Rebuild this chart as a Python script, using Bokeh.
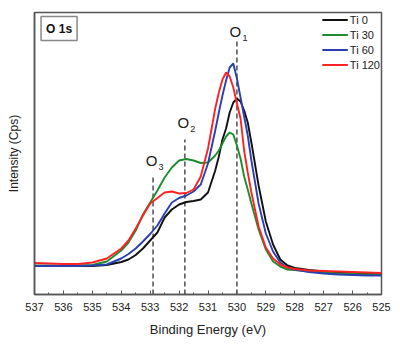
from bokeh.plotting import figure
from bokeh.models import Range1d, SingleIntervalTicker, FixedTicker, Legend, LegendItem, Label
from bokeh.core.properties import value
from bokeh.embed import file_html
from bokeh.resources import INLINE

# Binding energy grid (eV)
energy = [537, 536.5, 536, 535.5, 535, 534.5, 534, 533.75, 533.5, 533.25, 533,
          532.75, 532.5, 532.25, 532, 531.75, 531.5, 531.25, 531, 530.75, 530.625,
          530.5, 530.375, 530.25, 530.125, 530, 529.875, 529.75, 529.625, 529.5,
          529.25, 529, 528.75, 528.5, 528.25, 528, 527.5, 527, 526.5, 526, 525.5, 525]

# Intensities (arbitrary units)
ti0 = [28.5, 28.5, 28.5, 28.5, 28.5, 29.5, 32.5, 35, 39.5, 46, 54,
       62, 77, 85, 90, 92.5, 93.5, 95, 102, 124, 138,
       155, 166, 182, 192, 196, 193, 184, 172, 152,
       109, 73, 50, 35, 29, 26.5, 24.5, 23, 22, 21.5, 21, 20.5]
ti30 = [29, 29, 29, 29, 29.5, 33, 44, 52, 64, 80, 92,
        104, 117, 127, 134, 135.5, 134, 131.5, 132, 139, 144,
        151, 158, 162, 160, 149, 136, 118, 105, 91,
        65, 45, 33, 28, 25, 24.5, 23, 22, 21, 20.5, 20, 20]
ti60 = [28.5, 28.5, 28.5, 28.5, 29, 30, 36, 40.5, 46, 53, 60.5,
        69, 81, 92, 96.5, 99, 103, 110, 131, 164, 182,
        199, 214, 227, 231, 216, 197, 178, 159, 134,
        91, 61, 43, 32, 27, 25, 22.5, 21, 20, 19.5, 19, 19]
ti120 = [31.5, 31, 30.5, 30.5, 32, 36, 46, 54, 66, 79, 91,
         96.5, 102, 103, 101, 101.5, 105, 118, 146, 186, 202,
         215, 222, 218, 207, 191, 176, 144, 122, 102,
         68, 47, 36, 30, 27, 25.5, 24, 23.5, 23, 22.5, 22, 21.5]

series_names = ["Ti 0", "Ti 30", "Ti 60", "Ti 120"]
series_colors = ["#111111", "#1e8c2e", "#2a3fb0", "#ff2222"]

# Component peak markers
peak_pos = [532.9, 531.8, 530.0]
peak_top = [120, 155, 254]
peak_label_y = [128, 166, 257]
peak_sub = ["3", "2", "1"]

FONT = "Liberation Sans"

p = figure(width=400, height=347, x_range=Range1d(537, 525), y_range=Range1d(0, 282),
           output_backend="svg", toolbar_location=None,
           min_border_left=34, min_border_right=19, min_border_top=12, min_border_bottom=53)
p.background_fill_color = "white"
p.border_fill_color = "white"
p.outline_line_color = "#555555"
p.outline_line_width = 1.5
p.xgrid.visible = False
p.ygrid.visible = False

xa = p.xaxis[0]
xa.ticker = SingleIntervalTicker(interval=1, num_minor_ticks=2)
xa.major_tick_in = 4
xa.major_tick_out = 0
xa.minor_tick_in = 2
xa.minor_tick_out = 0
xa.axis_line_color = "#555555"
xa.axis_line_width = 1.5
xa.major_tick_line_color = "#555555"
xa.minor_tick_line_color = "#555555"
xa.major_label_text_font = FONT
xa.major_label_text_font_size = "11px"
xa.major_label_text_color = "#222222"
xa.major_label_standoff = 8
xa.axis_label = "Binding Energy (eV)"
xa.axis_label_text_font = FONT
xa.axis_label_text_font_size = "13px"
xa.axis_label_text_font_style = "normal"
xa.axis_label_text_color = "#222222"
xa.axis_label_standoff = 8

ya = p.yaxis[0]
ya.ticker = FixedTicker(ticks=[])
ya.major_tick_in = 0
ya.major_tick_out = 0
ya.minor_tick_in = 0
ya.minor_tick_out = 0
ya.major_label_standoff = 0
ya.axis_line_color = "#555555"
ya.axis_line_width = 1.5
ya.axis_label = "Intensity (Cps)"
ya.axis_label_text_font = FONT
ya.axis_label_text_font_size = "12px"
ya.axis_label_text_font_style = "normal"
ya.axis_label_text_color = "#222222"
ya.axis_label_standoff = 14

# dashed component markers
p.segment(x0=peak_pos, y0=[0, 0, 0], x1=peak_pos, y1=peak_top,
          line_color="#333333", line_width=1.3, line_dash="5 3")

items = []
for name, col, ys in zip(series_names, series_colors, [ti0, ti30, ti60, ti120]):
    r = p.line(energy, ys, line_color=col, line_width=1.9)
    items.append(LegendItem(label=name, renderers=[r]))

p.text(x=peak_pos, y=peak_label_y, text=["O", "O", "O"], x_offset=-1.5, y_offset=-6,
       text_align="center", text_baseline="alphabetic",
       text_font=value(FONT), text_font_size="15px", text_color="#222222")
p.text(x=peak_pos, y=peak_label_y, text=peak_sub, x_offset=8, y_offset=0,
       text_align="center", text_baseline="alphabetic",
       text_font=value(FONT), text_font_size="9px", text_color="#222222")

box = Label(x=536.15, y=266, text="O 1s", text_align="center", text_baseline="middle",
            text_font=FONT, text_font_size="12px", text_font_style="bold",
            text_color="#111111", border_line_color="#888888", border_line_width=1.5,
            background_fill_color="white", padding=5)
p.add_layout(box)

legend = Legend(items=items, location="top_right", margin=1, padding=0, spacing=2,
                glyph_width=26, glyph_height=13, label_height=13, label_standoff=2,
                label_text_font=FONT, label_text_font_size="11px", label_text_color="#222222",
                background_fill_alpha=0, border_line_alpha=0)
p.add_layout(legend)

open("out.html", "w").write(file_html(p, INLINE))
